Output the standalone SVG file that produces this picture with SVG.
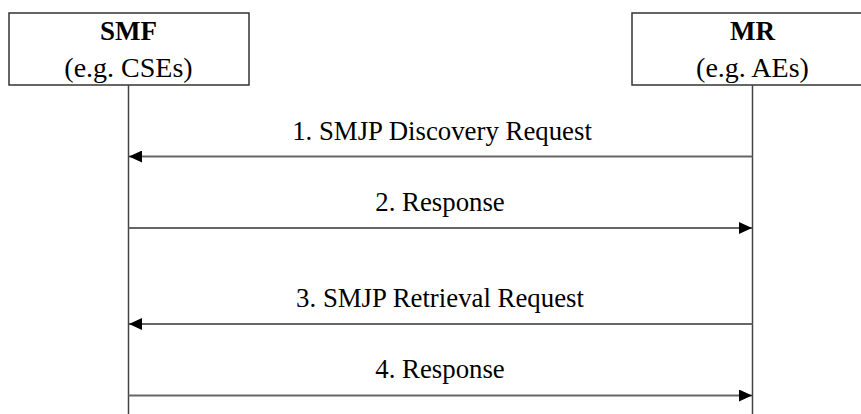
<svg xmlns="http://www.w3.org/2000/svg" width="861" height="414" viewBox="0 0 861 414">
<defs>
<style>
.box{fill:#fff;stroke:#333;stroke-width:1.5}
.life{stroke:#444;stroke-width:1.5;fill:none}
.msg{stroke:#666;stroke-width:2;fill:none}
.t{font-family:"Liberation Serif","Times New Roman",serif;fill:#000;text-anchor:middle}
.title{font-size:27px;font-weight:bold}
.sub{font-size:28px}
.lbl{font-size:26.8px}
</style>
<marker id="ah" viewBox="0 0 13 12" refX="13" refY="6" markerWidth="13" markerHeight="12" markerUnits="userSpaceOnUse" orient="auto">
<path d="M0,0 L13,6 L0,12 Z" fill="#000"/>
</marker>
</defs>
<rect width="861" height="414" fill="#fff"/>
<g id="smf">
<rect class="box" x="9" y="13" width="240" height="72"/>
<text class="t title" x="128.5" y="40">SMF</text>
<text class="t sub" x="128.5" y="77">(e.g. CSEs)</text>
</g>
<g id="mr">
<rect class="box" x="632" y="13" width="240" height="72"/>
<text class="t title" x="752.5" y="40">MR</text>
<text class="t sub" x="752.5" y="77">(e.g. AEs)</text>
</g>
<g id="connectors">
<line class="life" x1="128.5" y1="85" x2="128.5" y2="414"/>
<line class="life" x1="752.5" y1="85" x2="752.5" y2="414"/>
<line class="msg" x1="752.5" y1="156.5" x2="129" y2="156.5" marker-end="url(#ah)"/>
<line class="msg" x1="128.5" y1="228" x2="752" y2="228" marker-end="url(#ah)"/>
<line class="msg" x1="752.5" y1="324" x2="129" y2="324" marker-end="url(#ah)"/>
<line class="msg" x1="128.5" y1="395.5" x2="752" y2="395.5" marker-end="url(#ah)"/>
</g>
<g id="labels">
<text class="t lbl" x="442" y="140">1. SMJP Discovery Request</text>
<text class="t lbl" x="440" y="211">2. Response</text>
<text class="t lbl" x="440" y="307">3. SMJP Retrieval Request</text>
<text class="t lbl" x="440" y="378">4. Response</text>
</g>
</svg>
